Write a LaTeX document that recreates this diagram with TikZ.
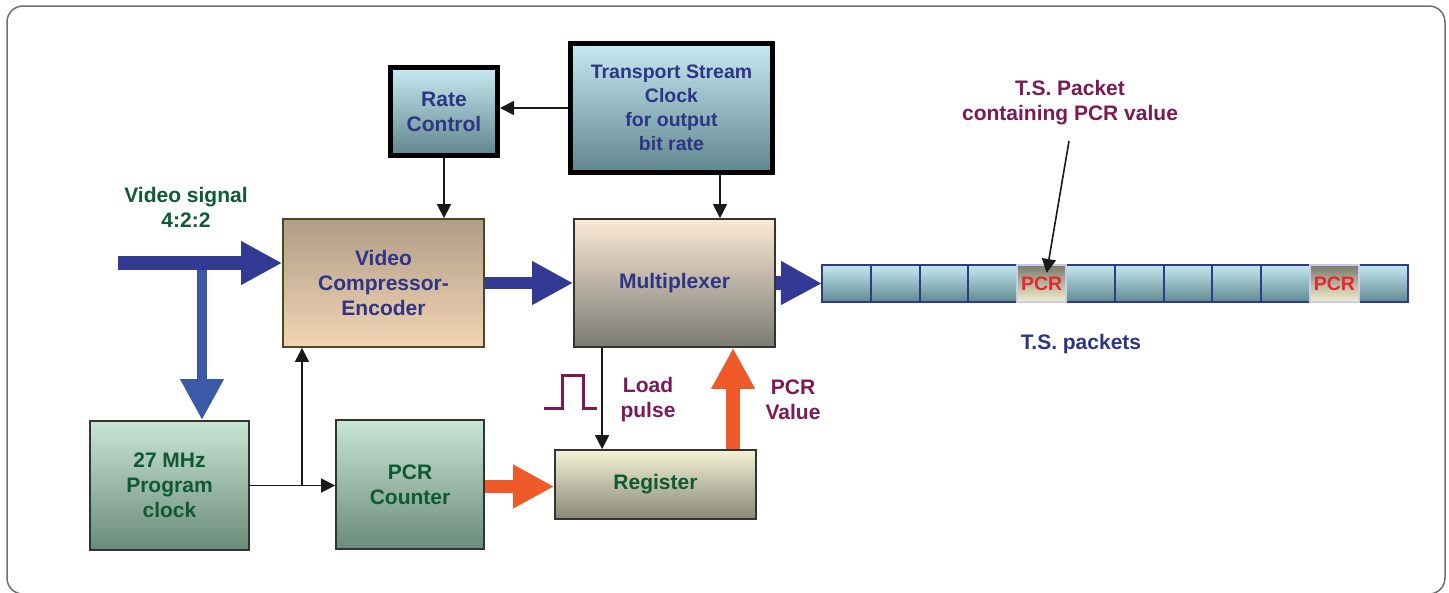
\documentclass[tikz,border=0pt]{standalone}
\usepackage{fontspec}
\setmainfont{Liberation Sans}
\usetikzlibrary{arrows.meta,calc}
\definecolor{navy}{HTML}{2E3586}
\definecolor{dgreen}{HTML}{0F5A32}
\definecolor{purp}{HTML}{7B1A55}
\definecolor{bigblue}{HTML}{333A94}
\definecolor{brblue}{HTML}{3A5AA8}
\definecolor{orng}{HTML}{EE5A2A}
\definecolor{pcrred}{HTML}{E8262E}
\definecolor{cellnavy}{HTML}{2E3A8A}
\definecolor{lav}{HTML}{C8CCE8}
\definecolor{framegray}{HTML}{707070}
\definecolor{cyantop}{HTML}{C8EAF2}
\definecolor{cyanbot}{HTML}{5F858C}
\definecolor{vcetop}{HTML}{B09D88}
\definecolor{vcebot}{HTML}{F3D4B4}
\definecolor{vceborder}{HTML}{4A4A20}
\definecolor{muxtop}{HTML}{FBE9D6}
\definecolor{muxbot}{HTML}{7A7A72}
\definecolor{grntop}{HTML}{C8E6D5}
\definecolor{grnbot}{HTML}{6A8A7A}
\definecolor{regtop}{HTML}{F5F2D5}
\definecolor{regbot}{HTML}{878776}
\definecolor{celltop}{HTML}{C5E8F0}
\definecolor{cellbot}{HTML}{5F8A90}
\definecolor{pcrtop}{HTML}{7B7B6E}
\definecolor{pcrbot}{HTML}{F3F0D0}
\tikzset{
  txt/.style={font=\bfseries\fontsize{21}{25}\selectfont, align=center},
  cyanbox/.style={txt, draw=black, line width=5pt, top color=cyantop, bottom color=cyanbot, text=navy},
  vcebox/.style={txt, draw=vceborder, line width=1.8pt, top color=vcetop, bottom color=vcebot, text=navy},
  muxbox/.style={txt, draw=black!80, line width=1.8pt, top color=muxtop, bottom color=muxbot, text=navy},
  grnbox/.style={txt, draw=black!80, line width=1.8pt, top color=grntop, bottom color=grnbot, text=dgreen},
  regbox/.style={txt, draw=black!80, line width=1.8pt, top color=regtop, bottom color=regbot, text=dgreen},
  thinarr/.style={line width=1.6pt, draw=black!90, -{Triangle[length=14pt,width=14pt]}},
  fat/.style={line width=14pt, -{Triangle[length=41pt,width=41pt]}},
  cell/.style={draw=cellnavy, line width=2pt, top color=celltop, bottom color=cellbot, minimum width=48.8pt, minimum height=37pt, inner sep=0pt, outer sep=0pt},
  pcrcell/.style={draw=lav, line width=2pt, top color=pcrtop, bottom color=pcrbot, minimum width=48.8pt, minimum height=37pt, inner sep=0pt, outer sep=0pt, font=\bfseries\fontsize{19.5}{22}\selectfont, text=pcrred},
}
\begin{document}
\begin{tikzpicture}[x=1pt,y=-1pt]
\useasboundingbox (0,0) rectangle (1449,592);
\fill[white] (0,0) rectangle (1449,592);
\draw[framegray, line width=1.5pt, rounded corners=16pt] (7,6) rectangle (1445,594);

% boxes
\node[cyanbox, minimum width=107pt, minimum height=88pt] (rate) at (444,111.5) {Rate\\Control};
\node[cyanbox, minimum width=202pt, minimum height=129pt, font=\bfseries\fontsize{19.5}{24}\selectfont] (tsc) at (671.5,108) {Transport Stream\\Clock\\for output\\bit rate};
\node[vcebox, minimum width=201pt, minimum height=128pt] (vce) at (383.5,283) {Video\\Compressor-\\Encoder};
\node[muxbox, minimum width=201pt, minimum height=128pt] (mux) at (674.5,283) {Multiplexer};
\node[grnbox, minimum width=159pt, minimum height=129pt] (clk) at (169.5,485.5) {27 MHz\\Program\\clock};
\node[grnbox, minimum width=148pt, minimum height=129pt] (pcrc) at (410,484.5) {PCR\\Counter};
\node[regbox, minimum width=201pt, minimum height=69pt] (reg) at (655.5,484.5) {Register};

% packets
\foreach \i in {1,2,3,4,6,7,8,9,10,12}{
  \node[cell] (p\i) at ({822+48.8*(\i-0.5)},283.5) {};
}
\foreach \i in {5,11}{
  \node[pcrcell] (p\i) at ({822+48.8*(\i-0.5)},283.5) {\raisebox{-1.5pt}{PCR}};
}

% labels
\node[txt, text=dgreen] (vsig) at (186,207) {Video signal\\4:2:2};
\node[txt, text=purp] (lpl) at (648,400) {Load\\pulse};
\node[txt, text=purp] (pcv) at (793,400) {PCR\\Value};
\node[txt, text=purp] (tsp) at (1070,103) {T.S. Packet\\containing PCR value};
\node[txt, text=navy] (tsl) at (1081,344) {T.S. packets};

% thin connectors
\draw[thinarr] (tsc.west) -- (rate.east |- tsc.west);
\draw[thinarr] (rate.south) -- (rate.south |- vce.north);
\path (tsc.south) ++(48.5,0) coordinate (t1);
\draw[thinarr] (t1) -- (t1 |- mux.north);
\coordinate (j) at (302,485.5);
\draw[thinarr] (clk.east) -- (pcrc.west |- clk.east);
\draw[thinarr] (j) -- (j |- vce.south);
\path (mux.south west) ++(29,0) coordinate (lp);
\draw[thinarr] (lp) -- (lp |- reg.north);
\coordinate (tspt) at (1069,141);
\draw[thinarr] (tspt) -- ($(p5.north)+(5,8)$);

% pulse symbol
\draw[purp, line width=3pt] (544,408) -- (562,408) -- (562,375) -- (583,375) -- (583,408) -- (597,408);

% fat arrows
\coordinate (vin) at (118,263);
\coordinate (br) at (202,263);
\draw[fat, brblue, line width=10pt] (br) -- (br |- clk.north);
\draw[fat, bigblue] (vin) -- (vin -| vce.west);
\draw[fat, bigblue, line width=12pt] (vce.east) -- (mux.west);
\draw[fat, bigblue] (mux.east) -- (p1.west);
\draw[fat, orng, line width=13pt] (pcrc.east |- 0,486.5) -- (reg.west |- 0,486.5);
\path (reg.north west) ++(179,0) coordinate (pv);
\draw[fat, orng] (pv) -- (pv |- mux.south);
\end{tikzpicture}
\end{document}
